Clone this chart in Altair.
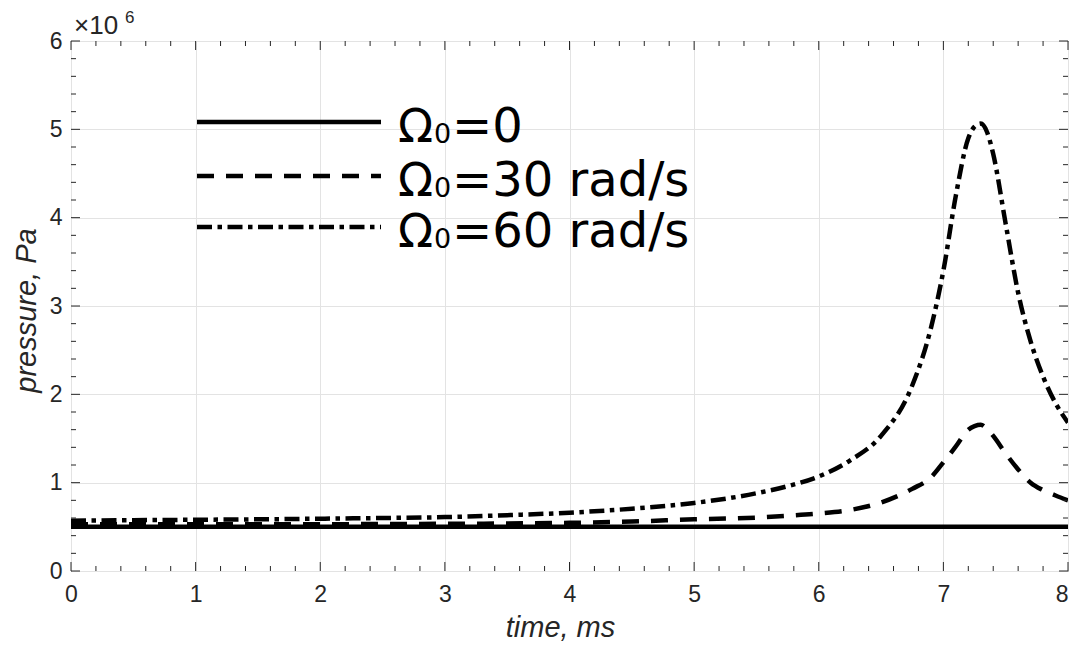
import altair as alt
import pandas as pd

# ---------------- data ----------------
time_ms = [0, 0.5, 1, 1.5, 2, 2.5, 3, 3.5, 4, 4.5, 5, 5.5, 5.75, 6, 6.25,
           6.5, 6.75, 6.9, 7.0, 7.1, 7.2, 7.25, 7.3, 7.35, 7.4, 7.5, 7.6,
           7.7, 7.8, 7.9, 8.0]
# pressure in units of 1e6 Pa
p_omega0 = [0.5, 0.5, 0.5, 0.5, 0.5, 0.5, 0.5, 0.5, 0.5, 0.5, 0.5, 0.5,
            0.5, 0.5, 0.5, 0.5, 0.5, 0.5, 0.5, 0.5, 0.5, 0.5, 0.5, 0.5,
            0.5, 0.5, 0.5, 0.5, 0.5, 0.5, 0.5]
p_omega30 = [0.53, 0.53, 0.53, 0.53, 0.53, 0.532, 0.534, 0.538, 0.545,
             0.56, 0.585, 0.605, 0.625, 0.65, 0.69, 0.775, 0.93, 1.06, 1.23,
             1.41, 1.60, 1.64, 1.655, 1.61, 1.53, 1.33, 1.15, 1.0, 0.915,
             0.855, 0.80]
p_omega60 = [0.57, 0.575, 0.58, 0.585, 0.592, 0.60, 0.61, 0.632, 0.66,
             0.705, 0.77, 0.88, 0.96, 1.07, 1.25, 1.53, 2.1, 2.75, 3.4,
             4.25, 4.9, 5.03, 5.065, 4.97, 4.72, 3.93, 3.15, 2.6, 2.2,
             1.9, 1.68]
series_labels = ["Ω₀=0", "Ω₀=30 rad/s", "Ω₀=60 rad/s"]
legend_rest = ["=0", "=30 rad/s", "=60 rad/s"]

x_major = [0, 1, 2, 3, 4, 5, 6, 7, 8]
y_major = [0, 1, 2, 3, 4, 5, 6]
x_minor = [v / 5 for v in range(0, 41) if v % 5 != 0]
y_minor = [v / 5 for v in range(0, 31) if v % 5 != 0]

# ---------------- styling ----------------
W, H = 997, 530
AX = "#262626"
GRID = "#e3e3e3"
FONT = "Liberation Sans"
LW = 4.5
dashes = [[1, 0], [17, 12], [15, 5.5, 4.5, 5.5]]

rows = []
for lab, vals in zip(series_labels, [p_omega0, p_omega30, p_omega60]):
    for t, p in zip(time_ms, vals):
        rows.append({"t": t, "p": p, "series": lab})
df = pd.DataFrame(rows)

xscale = alt.Scale(domain=[0, 8], nice=False, zero=False)
yscale = alt.Scale(domain=[0, 6], nice=False, zero=False)

xaxis = alt.Axis(values=x_major, title="time, ms", ticks=False,
                 domain=False, grid=True, gridColor=GRID,
                 labelFont=FONT, labelFontSize=23, labelColor=AX,
                 labelPadding=12, labelFlush=False, labelOverlap=False,
                 labelAlign={"condition": {"test": "datum.value >= 8",
                                           "value": "right"},
                             "value": "center"},
                 titleFont=FONT, titleFontSize=29,
                 titleFontStyle="italic", titleFontWeight="normal",
                 titleColor=AX, titleX=489, titleY=65,
                 titleBaseline="alphabetic", titleAlign="center")
yaxis = alt.Axis(values=y_major, title="pressure, Pa", ticks=False,
                 domain=False, grid=True, gridColor=GRID,
                 labelFont=FONT, labelFontSize=23, labelColor=AX,
                 labelPadding=9, labelFlush=False, labelOverlap=False,
                 titleFont=FONT, titleFontSize=29,
                 titleFontStyle="italic", titleFontWeight="normal",
                 titleColor=AX, titleX=-36, titleY=269,
                 titleAngle=-90, titleBaseline="alphabetic",
                 titleAlign="center")

X = alt.X("t:Q", scale=xscale, axis=xaxis)
Y = alt.Y("p:Q", scale=yscale, axis=yaxis)

lines = alt.Chart(df).mark_line(color="black", strokeWidth=LW,
                                interpolate="monotone", clip=True).encode(
    x=X, y=Y,
    strokeDash=alt.StrokeDash("series:N",
                              scale=alt.Scale(domain=series_labels, range=dashes),
                              legend=None),
    detail="series:N",
)


def xticks(vals, length, top):
    d = pd.DataFrame({"t": vals})
    y0 = 0 if top else H
    y1 = length if top else H - length
    return alt.Chart(d).mark_rule(color=AX, strokeWidth=1).encode(
        x=X, y=alt.value(y0), y2=alt.value(y1))


def yticks(vals, length, right):
    d = pd.DataFrame({"p": vals})
    x0 = W if right else 0
    x1 = W - length if right else length
    return alt.Chart(d).mark_rule(color=AX, strokeWidth=1).encode(
        y=Y, x=alt.value(x0), x2=alt.value(x1))


tick_layers = [
    xticks(x_major, 9, False), xticks(x_minor, 5, False),
    xticks(x_major, 9, True), xticks(x_minor, 5, True),
    yticks(y_major, 9, False), yticks(y_minor, 5, False),
    yticks(y_major, 9, True), yticks(y_minor, 5, True),
]

one = pd.DataFrame({"a": [0]})


def label(txt, x, y, size, font=FONT, color=AX):
    return alt.Chart(one).mark_text(font=font, fontSize=size, color=color,
                                    align="left", baseline="alphabetic").encode(
        x=alt.value(x), y=alt.value(y), text=alt.value(txt))


# exponent label
exp_layers = [label("×10", 3, -7, 26), label("6", 54, -18, 17)]

# legend (inside the plot, no frame)
legend_layers = []
leg_line_y = [81, 135, 186]
for rest, dash, ly in zip(legend_rest, dashes, leg_line_y):
    legend_layers.append(
        alt.Chart(one).mark_rule(color="black", strokeWidth=LW).encode(
            x=alt.value(126), x2=alt.value(310), y=alt.value(ly),
            strokeDash=alt.value(dash)))
    base = ly + 20
    legend_layers.append(label("Ω", 327, base, 46, "DejaVu Sans", "black"))
    legend_layers.append(label("0", 363, base + 1, 27, "DejaVu Sans", "black"))
    legend_layers.append(label(rest, 381, base, 48, "DejaVu Sans", "black"))

chart = alt.layer(lines, *tick_layers, *exp_layers, *legend_layers).properties(
    width=W, height=H,
    autosize=alt.AutoSizeParams(type="none"),
    padding={"left": 63, "top": 33, "right": 1, "bottom": 71},
    background="white",
).configure_view(stroke=AX, strokeWidth=1)

chart.save("out.html", embed_options={"renderer": "svg", "actions": False})
